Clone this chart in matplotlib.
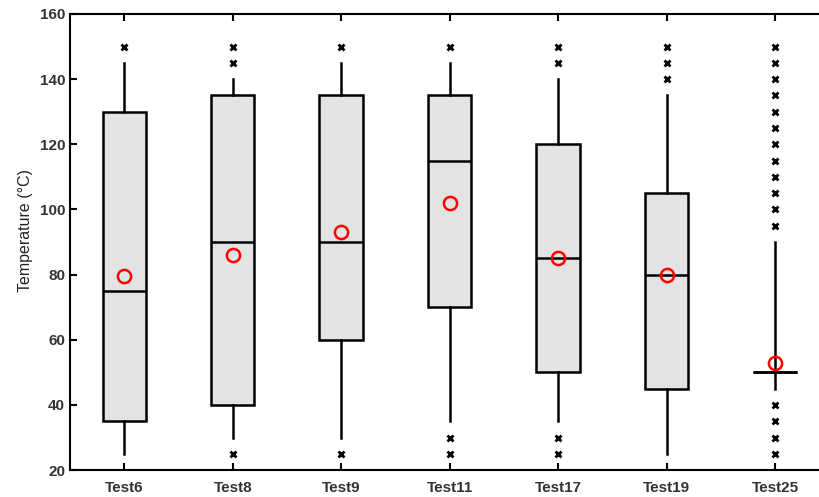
import matplotlib
matplotlib.use("Agg")
import matplotlib.pyplot as plt

plt.rcParams['font.family'] = ['Liberation Sans', 'DejaVu Sans']

tests = ["Test6", "Test8", "Test9", "Test11", "Test17", "Test19", "Test25"]
q1 = [35, 40, 60, 70, 50, 45, 50]
med = [75, 90, 90, 115, 85, 80, 50]
q3 = [130, 135, 135, 135, 120, 105, 50]
whislo = [25, 30, 30, 35, 35, 25, 45]
whishi = [145, 140, 145, 145, 140, 135, 90]
means = [79.5, 86, 93, 102, 85, 80, 53]
fliers = [
    [150],
    [145, 150, 25],
    [150, 25],
    [150, 30, 25],
    [145, 150, 30, 25],
    [140, 145, 150],
    [95, 100, 105, 110, 115, 120, 125, 130, 135, 140, 145, 150, 40, 35, 30, 25],
]

stats = []
for i, name in enumerate(tests):
    stats.append(dict(label=name, q1=q1[i], med=med[i], q3=q3[i],
                      whislo=whislo[i], whishi=whishi[i], mean=means[i],
                      fliers=fliers[i]))

fig = plt.figure(figsize=(8.19, 4.97), dpi=100)
ax = fig.add_axes([0.0855, 0.054, 0.927, 0.918])

ax.bxp(stats, widths=0.4, patch_artist=True, showmeans=True, showcaps=False,
       boxprops=dict(facecolor="#e3e3e3", edgecolor="black", linewidth=1.8),
       medianprops=dict(color="black", linewidth=1.8),
       whiskerprops=dict(color="black", linewidth=1.8),
       flierprops=dict(marker="x", markeredgecolor="black", markersize=4,
                       markeredgewidth=2, linestyle="none"),
       meanprops=dict(marker="o", markerfacecolor="none", markeredgecolor="red",
                      markersize=9.5, markeredgewidth=1.8))

ax.set_xlim(0.5, 7.5)
ax.set_ylim(20, 160)
ax.set_yticks(range(20, 161, 20))
ax.set_ylabel("Temperature (°C)", fontsize=11.5, color="#222222")
ax.yaxis.set_label_coords(-0.049, 0.526)
ax.tick_params(direction="in", length=5, width=1.5, top=True, labelsize=11)
ax.tick_params(axis="x", pad=8)
for lbl in ax.get_xticklabels() + ax.get_yticklabels():
    lbl.set_fontweight("bold")
    lbl.set_color("#333333")
for s in ax.spines.values():
    s.set_linewidth(1.5)

fig.savefig("out.png", dpi=100)
